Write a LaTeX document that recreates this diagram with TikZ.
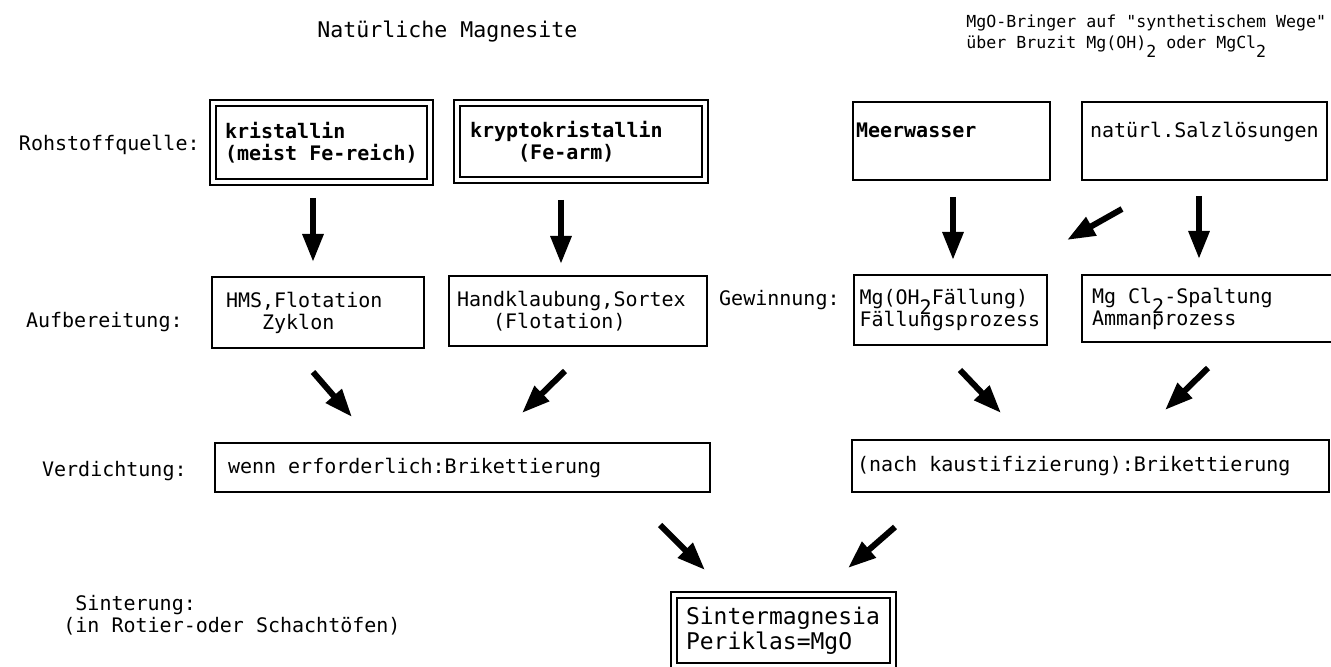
\documentclass[tikz,border=0pt]{standalone}
\usepackage{fontspec}
\setmainfont{DejaVu Sans Mono}
\usepackage{tikz}
\usetikzlibrary{arrows.meta,positioning}
\newcommand{\fixsp}{\fontdimen2\font=0.602em\fontdimen3\font=0pt\fontdimen4\font=0pt\relax}
\newcommand{\boxfont}{\fontsize{10}{11}\selectfont\fixsp}
\newcommand{\lowtwo}[1][5pt]{\raisebox{-#1}[0pt][0pt]{2}}
\tikzset{
  box/.style={draw,line width=1.4pt,font=\boxfont,align=left,
              inner ysep=0pt,
              execute at begin node={\spaceskip=0.602em\xspaceskip=0.602em\relax}},
  dbox/.style={box,double,double distance=1.6pt,line width=1.1pt},
  boldbox/.style={font=\boxfont\bfseries\fixsp},
  lbl/.style={font=\boxfont,inner sep=0pt},
  arr/.style={-{Triangle[length=14pt,width=10pt]},line width=3pt},
}

\begin{document}
\begin{tikzpicture}[x=0.5pt,y=-0.5pt]
  \useasboundingbox[fill=white] (0,0) rectangle (1331,667);

  % Ueberschriften
  \node[lbl,anchor=west,font=\fontsize{10.8}{12}\selectfont\fixsp] (NAT) at (317,32) {Natürliche Magnesite};
  \node[lbl,anchor=west,align=left,font=\fontsize{8.3}{10.5}\selectfont\fixsp] (SYN) at (966,33)
    {MgO-Bringer auf \textquotedbl synthetischem Wege\textquotedbl\\über Bruzit Mg(OH)\lowtwo[4.5pt] oder MgCl\lowtwo[4.5pt]};

  % Zeilenbeschriftung
  \node[lbl,anchor=east] (ROH)  at (200,145) {Rohstoffquelle:};
  \node[lbl,anchor=east] (AUF)  at (183,322) {Aufbereitung:};
  \node[lbl,anchor=east] (GEW)  at (840,300) {Gewinnung:};
  \node[lbl,anchor=east] (VERD) at (187,471) {Verdichtung:};
  \node[lbl,anchor=west,align=left] (SINTL) at (63,615)
    {\phantom{(}Sinterung:\\(in Rotier-oder Schachtöfen)};

  % Rohstoffquelle
  \node[dbox,boldbox,minimum height=39.5pt,text width=96.5pt,inner xsep=6pt] (KRI) at (321.5,142.5)
    {kristallin\\(meist Fe-reich)};
  \node[dbox,boldbox,minimum height=38.5pt,text width=111pt,inner xsep=6.5pt] (KRY) at (581,141.5)
    {kryptokristallin\\\phantom{xxxx}(Fe-arm)};
  \node[box,boldbox,minimum height=39pt,text width=95.5pt,inner xsep=1.5pt] (MEER) at (951.5,141)
    {Meerwasser\\\mbox{}};
  \node[box,minimum height=39pt,text width=114.5pt,inner xsep=4pt] (SALZ) at (1204.5,141)
    {natürl.Salzlösungen\\\mbox{}};

  % Aufbereitung / Gewinnung
  \node[box,minimum height=35.5pt,text width=92pt,inner xsep=7pt] (HMS) at (318,312.5)
    {HMS,Flotation\\\phantom{xxx}Zyklon};
  \node[box,minimum height=35pt,text width=121pt,inner xsep=4pt] (HAND) at (578,311)
    {Handklaubung,Sortex\\\phantom{xxx}(Flotation)};
  \node[box,minimum height=35pt,text width=91pt,inner xsep=2.75pt] (FAELL) at (950.5,310)
    {Mg(OH\lowtwo Fällung)\\Fällungsprozess};
  \node[box,minimum height=33.5pt,text width=119pt,inner xsep=5pt] (SPALT) at (1211,308.5)
    {Mg Cl\lowtwo-Spaltung\\Ammanprozess};

  % Verdichtung
  \node[box,minimum height=24.5pt,text width=234.5pt,inner xsep=6.5pt] (VERL) at (462.5,467.5)
    {wenn erforderlich:Brikettierung};
  \node[box,minimum height=26pt,text width=233.5pt,inner xsep=2.5pt] (VERR) at (1090.5,466)
    {(nach kaustifizierung):Brikettierung};

  % Sinterung
  \node[dbox,minimum height=35.5pt,text width=97.5pt,inner xsep=6pt,
        font=\fontsize{11.5}{11}\selectfont\fixsp] (SINT) at (783.5,630.5)
    {Sintermagnesia\\Periklas=MgO};

  % Pfeilenden
  \coordinate (a1) at (313,198);  \coordinate (b1) at (313,262);
  \coordinate (a2) at (561,200);  \coordinate (b2) at (561,264);
  \coordinate (a3) at (953,197);  \coordinate (b3) at (953,260);
  \coordinate (a4) at (1199,196); \coordinate (b4) at (1199,259);
  \coordinate (a5) at (1122,209); \coordinate (b5) at (1067,240);
  \coordinate (c1) at (313,372);  \coordinate (d1) at (352,417);
  \coordinate (c2) at (565,371);  \coordinate (d2) at (522,413);
  \coordinate (c3) at (960,370);  \coordinate (d3) at (1001,413);
  \coordinate (c4) at (1208,368); \coordinate (d4) at (1165,410);
  \coordinate (e1) at (660,525);  \coordinate (f1) at (705,570);
  \coordinate (e2) at (895,527);  \coordinate (f2) at (848,568);

  \draw[arr] (a1) -- (b1);
  \draw[arr] (a2) -- (b2);
  \draw[arr] (a3) -- (b3);
  \draw[arr] (a4) -- (b4);
  \draw[arr] (a5) -- (b5);
  \draw[arr] (c1) -- (d1);
  \draw[arr] (c2) -- (d2);
  \draw[arr] (c3) -- (d3);
  \draw[arr] (c4) -- (d4);
  \draw[arr] (e1) -- (f1);
  \draw[arr] (e2) -- (f2);
\end{tikzpicture}
\end{document}
